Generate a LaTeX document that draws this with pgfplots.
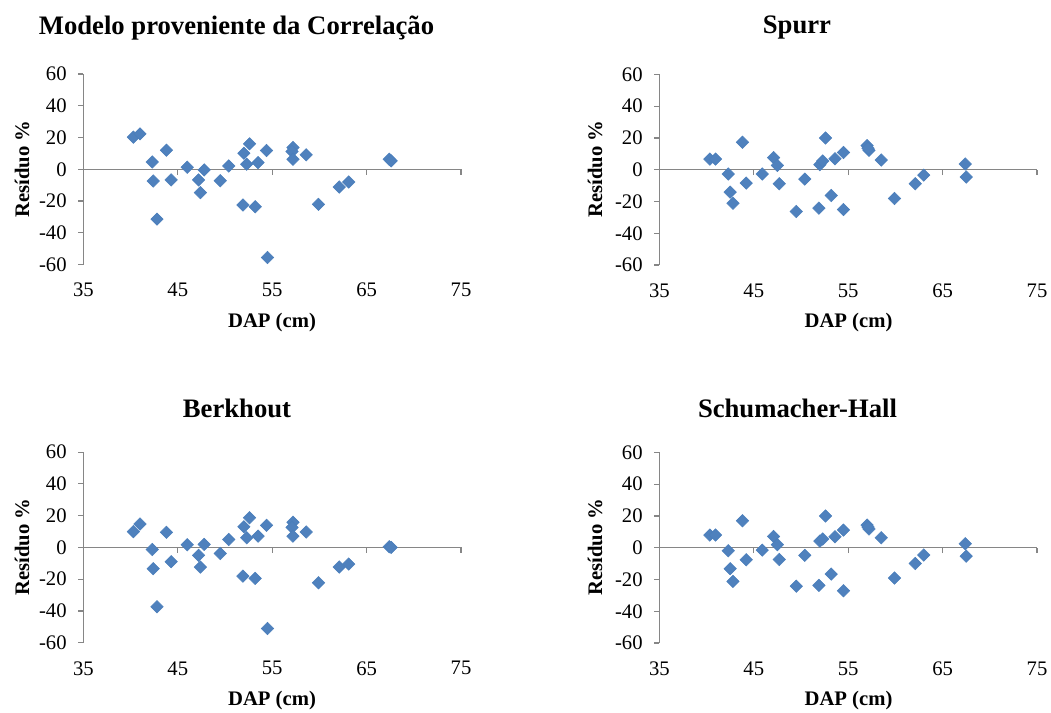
\documentclass[border=0pt]{standalone}
\usepackage{fontspec}
\setmainfont{Liberation Serif}
\usepackage{pgfplots}
\pgfplotsset{compat=1.18}
\usepackage{pgfplotstable}
\definecolor{axisgray}{HTML}{868686}
\definecolor{mblue}{HTML}{4F81BD}
\definecolor{mblueedge}{HTML}{4A7EBB}
\newcommand{\ticksize}{\fontsize{15.5}{18}\selectfont\rmfamily}
\newcommand{\labsize}{\fontsize{15.5}{18}\selectfont\bfseries}
\newcommand{\titsize}{\fontsize{20}{24}\selectfont\bfseries}

\pgfplotstableread{
x y
40.3 20.2
41.0 22.3
42.3 4.6
42.4 -7.4
42.8 -31.4
43.8 12.0
44.3 -6.7
46.0 1.3
47.2 -6.7
47.4 -14.7
47.8 -0.4
49.5 -7.2
50.4 2.1
52.0 10.1
51.9 -22.5
52.3 3.2
52.6 16.0
53.2 -23.6
53.5 4.2
54.4 11.8
54.5 -55.6
57.2 13.7
57.1 11.2
57.2 6.3
58.6 9.1
59.9 -22.1
62.1 -11.2
63.1 -8.0
67.4 6.3
67.6 5.3
}\tabcorr

\pgfplotstableread{
x y
40.35 6.7
40.95 6.7
42.3 -2.7
42.5 -14.1
42.8 -21.1
43.8 17.3
44.2 -8.4
45.9 -2.7
47.1 7.6
47.5 2.7
47.7 -8.8
49.5 -26.3
50.4 -5.9
52.0 3.2
51.9 -24.2
52.3 5.5
52.6 20.0
53.2 -16.2
53.6 6.9
54.5 10.9
54.5 -25.1
57.0 15.2
57.2 12.2
57.1 13.5
58.5 6.1
59.9 -18.1
62.1 -8.8
63.0 -3.4
67.4 3.6
67.5 -4.6
}\tabspurr

\pgfplotstableread{
x y
40.3 9.9
41.0 14.7
42.3 -1.3
42.4 -13.4
42.8 -37.4
43.8 9.5
44.3 -9.0
46.0 1.7
47.2 -5.0
47.4 -12.4
47.8 1.9
49.5 -3.8
50.4 5.0
52.0 13.0
51.9 -18.1
52.3 6.1
52.6 18.7
53.2 -19.5
53.5 7.1
54.4 13.9
54.5 -51.1
57.2 15.8
57.1 12.6
57.2 7.1
58.6 9.7
59.9 -22.3
62.1 -12.4
63.1 -10.5
67.4 0.4
67.6 0.0
}\tabberk

\pgfplotstableread{
x y
40.35 8.0
40.95 8.0
42.3 -1.9
42.5 -13.2
42.8 -21.2
43.8 17.0
44.2 -7.6
45.9 -1.5
47.1 7.1
47.5 1.9
47.7 -7.4
49.5 -24.2
50.4 -4.8
52.0 4.2
51.9 -23.7
52.3 5.5
52.6 20.0
53.2 -16.6
53.6 6.9
54.5 11.1
54.5 -27.1
57.0 14.3
57.2 11.8
57.1 13.0
58.5 6.3
59.9 -19.1
62.1 -9.9
63.0 -4.6
67.4 2.5
67.5 -5.3
}\tabschu

\pgfplotsset{
  resid/.style={
    scale only axis, width=283.3pt, height=142.9pt,
    anchor=south west,
    xmin=35, xmax=75, ymin=-60, ymax=60,
    xtick={35,45,55,65,75}, ytick={-60,-40,-20,0,20,40,60},
    axis x line=middle, axis y line=left,
    axis line style={-, draw=axisgray, line width=0.9pt},
    tick style={draw=axisgray, line width=0.9pt},
    tick align=outside, major tick length=4pt,
    hide obscured x ticks=false, hide obscured y ticks=false,
    tick label style={font=\ticksize, text=black},
    /pgf/number format/assume math mode=true,
    xticklabel style={yshift=-72pt-6pt},
    yticklabel style={xshift=-5pt},
    clip=false,
  },
  residplot/.style={only marks, mark=square*, mark size=3.3pt,
    mark options={rotate=45, fill=mblue, draw=mblueedge, line width=0.4pt}},
}

\begin{document}
\begin{tikzpicture}
\path[use as bounding box] (0,0) rectangle (788.25pt,-534.75pt);

\begin{axis}[resid, at={(62.5pt,-198.4pt)}]
\addplot[residplot] table[x=x,y=y] {\tabcorr};
\end{axis}
\begin{axis}[resid, at={(494.5pt,-198.75pt)}]
\addplot[residplot] table[x=x,y=y] {\tabspurr};
\end{axis}
\begin{axis}[resid, at={(62.5pt,-482.0pt)}]
\addplot[residplot] table[x=x,y=y] {\tabberk};
\end{axis}
\begin{axis}[resid, at={(494.5pt,-482.25pt)}]
\addplot[residplot] table[x=x,y=y] {\tabschu};
\end{axis}

\begin{scope}[x=0.75pt,y=-0.75pt]
\node[font=\titsize] at (236.5,28) {Modelo proveniente da Correlação};
\node[font=\titsize] at (797,28) {Spurr};
\node[font=\titsize] at (237,408) {Berkhout};
\node[font=\titsize] at (797.5,408) {Schumacher-Hall};
\node[font=\labsize] at (272,323) {DAP (cm)};
\node[font=\labsize] at (848.5,323) {DAP (cm)};
\node[font=\labsize] at (272,701) {DAP (cm)};
\node[font=\labsize] at (848.5,701) {DAP (cm)};
\node[font=\labsize, rotate=90] at (22,169) {Resíduo \%};
\node[font=\labsize, rotate=90] at (595,169) {Resíduo \%};
\node[font=\labsize, rotate=90] at (22,547) {Resíduo \%};
\node[font=\labsize, rotate=90] at (595,547) {Resíduo \%};
\end{scope}
\end{tikzpicture}
\end{document}
